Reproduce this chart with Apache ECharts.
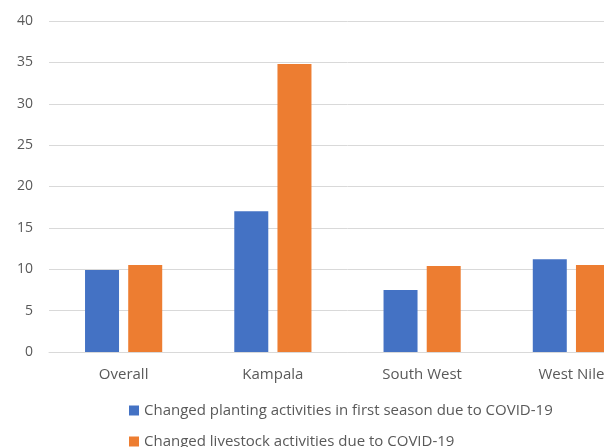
<!DOCTYPE html>
<html>
<head>
<meta charset="utf-8">
<script src="https://cdn.jsdelivr.net/npm/echarts@6/dist/echarts.min.js"></script>
<style>
  html, body { margin: 0; padding: 0; background: #fff; overflow: hidden; }
  /* wider than the window: the original picture is cut off on the right */
  #chart { width: 646px; height: 447px; }
</style>
</head>
<body>
<div id="chart"></div>
<script>
// regions on the x axis
const regions = ['Overall', 'Kampala', 'South West', 'West Nile']
// share of households (%)
const plantingChanged = [9.9, 17.0, 7.5, 11.2]
const livestockChanged = [10.5, 34.8, 10.4, 10.5]
const seriesNames = [
  'Changed planting activities in first season due to COVID-19',
  'Changed livestock activities due to COVID-19'
]

const chart = echarts.init(document.getElementById('chart'))
const labelFont = 'Open Sans'

chart.setOption({
  animation: false,
  grid: {
    left: 49,
    top: 21,
    right: 0,
    height: 331
  },
  legend: {
    orient: 'vertical',
    left: 124,
    top: 398,
    height: 60,
    itemWidth: 10,
    itemHeight: 10,
    itemGap: 16,
    icon: 'rect',
    textStyle: { fontFamily: labelFont, fontSize: 15, color: '#595959', lineHeight: 15 },
    data: seriesNames
  },
  xAxis: {
    type: 'category',
    data: regions,
    axisLine: { lineStyle: { color: '#d9d9d9' } },
    axisTick: { show: false },
    axisLabel: { fontFamily: labelFont, fontSize: 15, color: '#595959', margin: 15 }
  },
  yAxis: {
    type: 'value',
    min: 0,
    max: 40,
    interval: 5,
    axisLine: { show: false },
    axisTick: { show: false },
    axisLabel: { fontFamily: labelFont, fontSize: 14, color: '#595959', margin: 16 },
    splitLine: { lineStyle: { color: '#d9d9d9' } }
  },
  series: [
    {
      name: seriesNames[0],
      type: 'bar',
      data: plantingChanged,
      barWidth: 34,
      barGap: '27%',
      itemStyle: { color: '#4472c4' }
    },
    {
      name: seriesNames[1],
      type: 'bar',
      data: livestockChanged,
      barWidth: 34,
      barGap: '27%',
      itemStyle: { color: '#ed7d31' }
    }
  ]
})
</script>
</body>
</html>
